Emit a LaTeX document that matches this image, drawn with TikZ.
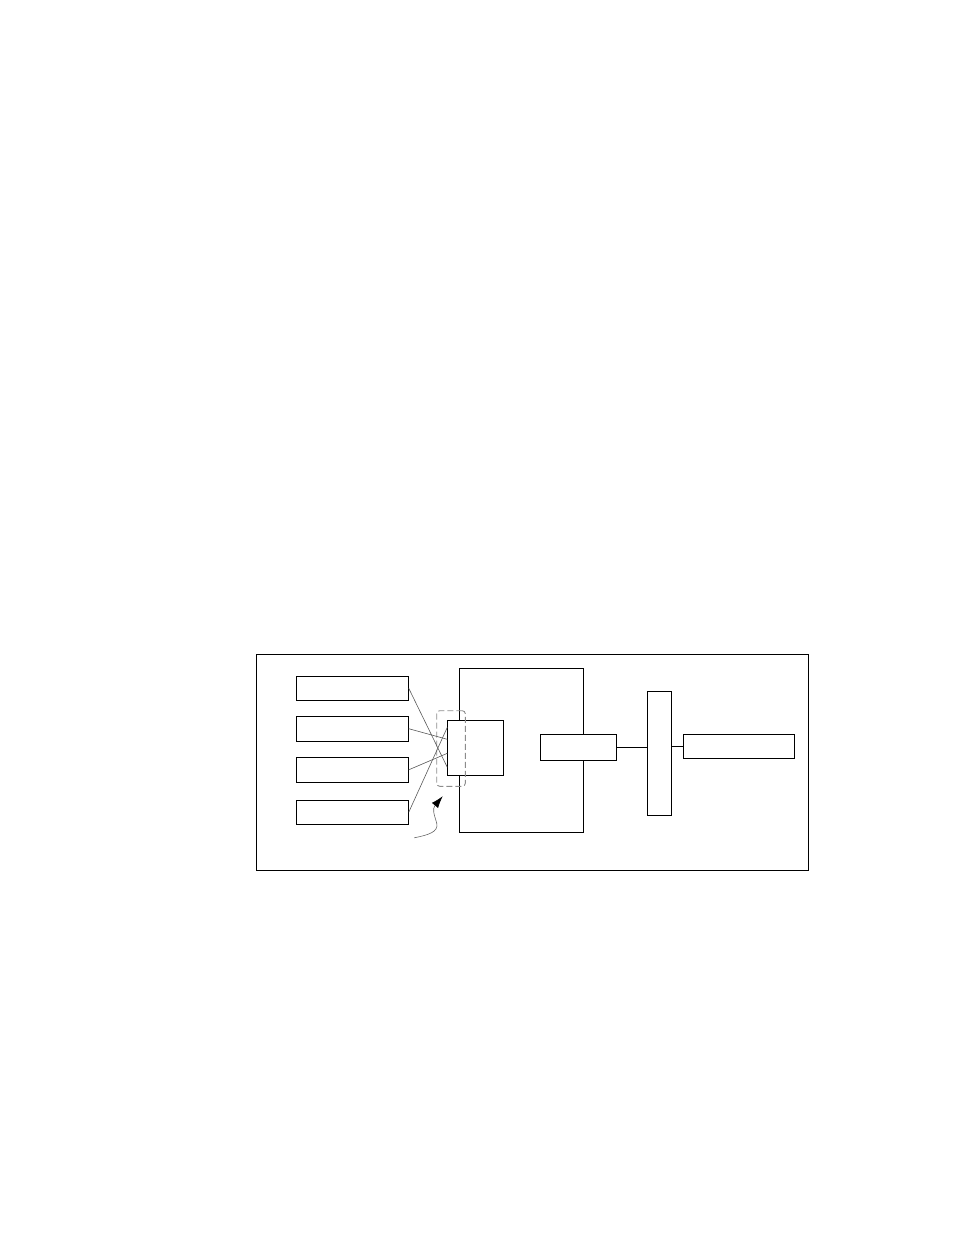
\documentclass[tikz,border=0pt]{standalone}
\usetikzlibrary{arrows.meta}
\begin{document}
\begin{tikzpicture}[x=1pt,y=-1pt,
  box/.style={draw=black,line width=0.9pt,fill=white,rectangle,inner sep=0pt},
  wire/.style={draw=black!65,line width=0.6pt},
  link/.style={draw=black,line width=0.9pt}]
\useasboundingbox (0,0) rectangle (954,1235);
\node[box,fill=none,minimum width=552pt,minimum height=216pt] (frame) at (532.3,762.3) {};
\node[box,minimum width=112pt,minimum height=24pt] (b1) at (352.3,688.3) {};
\node[box,minimum width=112pt,minimum height=24.5pt] (b2) at (352.3,728.7) {};
\node[box,minimum width=112pt,minimum height=25pt] (b3) at (352.3,769.8) {};
\node[box,minimum width=112pt,minimum height=24pt] (b4) at (352.3,812.2) {};
\node[box,minimum width=124pt,minimum height=164pt] (big) at (521.3,750.3) {};
\node[box,minimum width=56.4pt,minimum height=55pt] (sq) at (475.5,747.8) {};
\node[draw=black!45,dash pattern=on 6pt off 3pt,line width=0.9pt,rounded corners=3pt,rectangle,inner sep=0pt,minimum width=28.6pt,minimum height=75.6pt] (dash) at (451,748.5) {};
\node[box,minimum width=76pt,minimum height=26pt] (mid) at (578.3,747.3) {};
\node[box,minimum width=24.4pt,minimum height=124pt] (tall) at (659.5,753.3) {};
\node[box,minimum width=111pt,minimum height=24pt] (rt) at (738.8,746.8) {};
\coordinate (s1) at (447.3,767.3);
\coordinate (s2) at (447.3,739.3);
\coordinate (s3) at (447.3,753.3);
\coordinate (s4) at (447.3,727.3);
\draw[wire] (b1.east) -- (s1);
\draw[wire] (b2.east) -- (s2);
\draw[wire] (b3.east) -- (s3);
\draw[wire] (b4.east) -- (s4);
\draw[link] (mid.east) -- (mid.east -| tall.west);
\draw[link] (tall.east |- rt.west) -- (rt.west);
\coordinate (sqs) at (414.3,837.8);
\coordinate (sqe) at (442.7,796.2);
\draw[draw=black!60,line width=0.6pt,-{Latex[length=12pt,width=8pt,fill=black,color=black]}]
  (sqs) .. controls (428,835) and (439,832) .. (436.7,823)
  .. controls (434,814) and (432,809) .. (sqe);
\end{tikzpicture}
\end{document}
